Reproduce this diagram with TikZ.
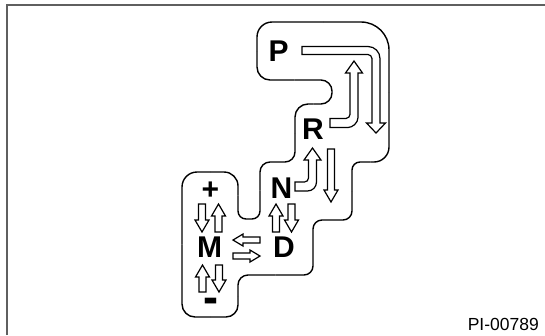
\documentclass[tikz,border=0pt]{standalone}
\usepackage{graphicx}
\usepackage{fontspec}
\setmainfont{Liberation Sans}
\definecolor{framegray}{RGB}{95,95,95}
\tikzset{
  gate/.style={line width=1.4pt, line cap=butt},
  blockarr/.style={line width=1.2pt, line join=miter, fill=white},
  gear/.style={font=\bfseries\fontsize{30}{30}\selectfont, inner sep=0pt},
  codelabel/.style={font=\fontsize{17.5}{17.5}\selectfont, inner sep=0pt, anchor=base east},
}
% x, ytop, ytip
\newcommand{\ArrDn}[3]{\draw[blockarr] ({#1-3.5},#2) -- ({#1+3.5},#2) -- ({#1+3.5},{#3-12}) -- ({#1+7},{#3-12}) -- (#1,#3) -- ({#1-7},{#3-12}) -- ({#1-3.5},{#3-12}) -- cycle;}
% x, ytip, ybottom
\newcommand{\ArrUp}[3]{\draw[blockarr] ({#1-3.5},#3) -- ({#1-3.5},{#2+12}) -- ({#1-7},{#2+12}) -- (#1,#2) -- ({#1+7},{#2+12}) -- ({#1+3.5},{#2+12}) -- ({#1+3.5},#3) -- cycle;}
% y, xtip, xtail
\newcommand{\ArrLt}[3]{\draw[blockarr] (#3,{#1-3}) -- ({#2+10},{#1-3}) -- ({#2+10},{#1-6}) -- (#2,#1) -- ({#2+10},{#1+6}) -- ({#2+10},{#1+3}) -- (#3,{#1+3}) -- cycle;}
% y, xtail, xtip
\newcommand{\ArrRt}[3]{\draw[blockarr] (#2,{#1-3}) -- ({#3-10},{#1-3}) -- ({#3-10},{#1-6}) -- (#3,#1) -- ({#3-10},{#1+6}) -- ({#3-10},{#1+3}) -- (#2,{#1+3}) -- cycle;}
\begin{document}
\begin{tikzpicture}[x=1pt,y=-1pt]
\useasboundingbox (0,0) rectangle (545,335);
% frame
\draw[framegray, line width=1.6pt, line join=miter] (7,335) -- (7,5) -- (545,5);
% gate outline
\draw[gate, rounded corners=13pt] (294.5,80) -- (257,80) -- (257,51);
\draw[gate, rounded corners=15pt] (257,51) -- (257,22) -- (323,22);
\draw[gate, rounded corners=28pt] (323,22) -- (389,22) -- (389,92);
\draw[gate, rounded corners=15pt] (389,92) -- (389,162) -- (370.5,162);
\draw[gate, rounded corners=8pt] (370.5,162) -- (352,162) -- (352,191);
\draw[gate, rounded corners=9pt] (352,191) -- (352,220) -- (313,220) -- (313,275) -- (275.5,275);
\draw[gate, rounded corners=10pt] (275.5,275) -- (238,275) -- (238,296);
\draw[gate, rounded corners=12pt] (238,296) -- (238,317) -- (210,317);
\draw[gate, rounded corners=13pt] (210,317) -- (182,317) -- (182,244.5);
\draw[gate, rounded corners=15pt] (182,244.5) -- (182,172) -- (210,172);
\draw[gate, rounded corners=14pt] (210,172) -- (238,172) -- (238,195.5);
\draw[gate, rounded corners=8pt] (238,195.5) -- (238,219) -- (260,219) -- (260,190.5);
\draw[gate, rounded corners=10pt] (260,190.5) -- (260,162) -- (295,162) -- (295,133);
\draw[gate, rounded corners=13pt] (295,133) -- (295,104) -- (313.5,104);
\draw[gate, rounded corners=11pt] (313.5,104) -- (332,104) -- (332,80) -- (294.5,80);
% letters
\node[gear] (P) at (278.5,51) {P};
\node[gear] (R) at (313,129) {R};
\node[gear] (N) at (281.5,188) {N};
\node[gear] (M) at (209.5,247.5) {M};
\node[gear] (D) at (284,247.5) {D};
\node[gear] (plus) at (210.5,191) {+};
\node[gear, anchor=base] (minus) at (210.5,313) {\scalebox{1.5}[1.6]{-}};
\node[codelabel] (code) at (539,330) {PI-00789};
% P -> R (down, L-shaped)
\draw[blockarr] (302,46.5) -- (368,46.5) .. controls (374.6,46.5) and (380,51.9) .. (380,58.5)
  -- (380,123) -- (385.5,123) -- (376,133) -- (366.5,123) -- (372,123) -- (372,58.5)
  .. controls (372,56.3) and (369.8,54.5) .. (368,54.5) -- (302,54.5) -- cycle;
% R -> P (up, L-shaped)
\draw[blockarr] (330,118.5) -- (346,118.5) .. controls (348.2,118.5) and (350,116.3) .. (350,114.5)
  -- (350,73) -- (345.5,73) -- (354,61) -- (362.5,73) -- (358,73) -- (358,117.5)
  .. controls (358,123) and (352.5,127.5) .. (348,127.5) -- (330,127.5) -- cycle;
% N -> R (up, L-shaped)
\draw[blockarr] (295,182) -- (304.5,182) .. controls (306.7,182) and (308.5,180.2) .. (308.5,178)
  -- (308.5,160) -- (304,160) -- (312.5,148) -- (321,160) -- (316.5,160) -- (316.5,182)
  .. controls (316.5,187) and (312.5,191) .. (307.5,191) -- (295,191) -- cycle;
% R -> N (down)
\ArrDn{331}{149}{202}
% N <-> D
\ArrUp{276}{204}{232}
\ArrDn{291.5}{204}{232}
% + <-> M
\ArrDn{202}{204}{232}
\ArrUp{218.5}{204}{232}
% M <-> -
\ArrUp{202.5}{265}{292}
\ArrDn{219}{265}{292}
% D <-> M
\ArrLt{240}{233}{260}
\ArrRt{256}{233}{260}
\end{tikzpicture}
\end{document}
